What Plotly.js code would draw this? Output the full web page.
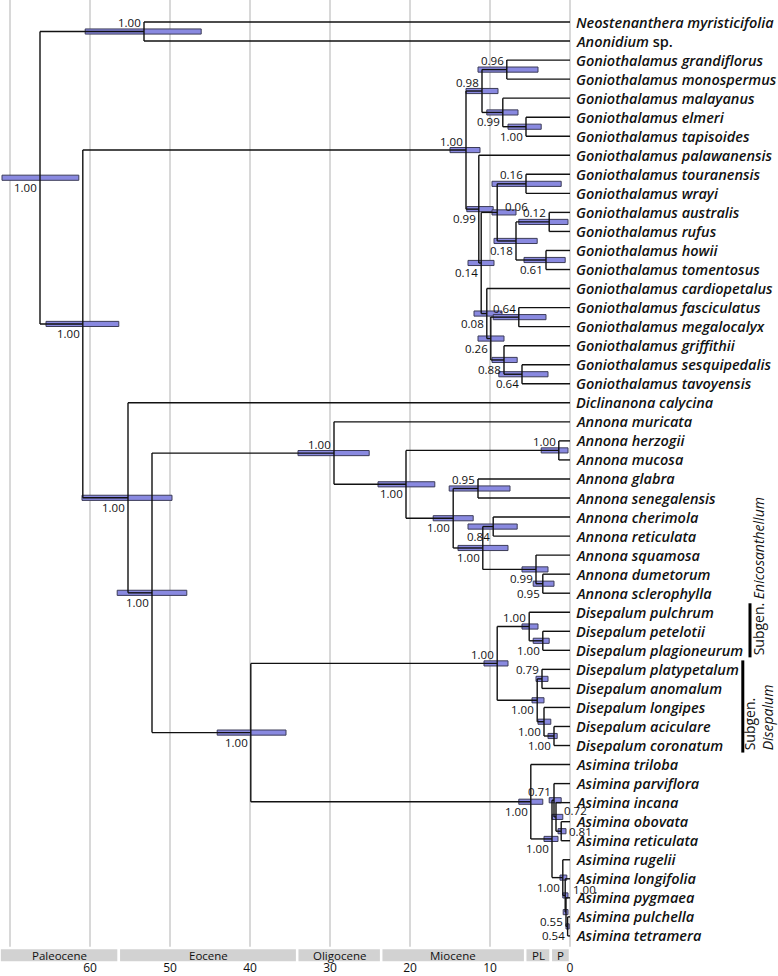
<!DOCTYPE html>
<html><head><meta charset="utf-8">
<script src="https://cdn.plot.ly/plotly-3.0.1.min.js"></script>
<style>html,body{margin:0;padding:0;background:#fff}#chart{width:778px;height:976px}</style>
</head><body><div id="chart"></div>
<script>
// ---- tips (top to bottom) ----
const taxa = [
 "Neostenanthera myristicifolia","Anonidium sp.",
 "Goniothalamus grandiflorus","Goniothalamus monospermus","Goniothalamus malayanus",
 "Goniothalamus elmeri","Goniothalamus tapisoides","Goniothalamus palawanensis",
 "Goniothalamus touranensis","Goniothalamus wrayi","Goniothalamus australis",
 "Goniothalamus rufus","Goniothalamus howii","Goniothalamus tomentosus",
 "Goniothalamus cardiopetalus","Goniothalamus fasciculatus","Goniothalamus megalocalyx",
 "Goniothalamus griffithii","Goniothalamus sesquipedalis","Goniothalamus tavoyensis",
 "Diclinanona calycina","Annona muricata","Annona herzogii","Annona mucosa",
 "Annona glabra","Annona senegalensis","Annona cherimola","Annona reticulata",
 "Annona squamosa","Annona dumetorum","Annona sclerophylla",
 "Disepalum pulchrum","Disepalum petelotii","Disepalum plagioneurum",
 "Disepalum platypetalum","Disepalum anomalum","Disepalum longipes",
 "Disepalum aciculare","Disepalum coronatum",
 "Asimina triloba","Asimina parviflora","Asimina incana","Asimina obovata",
 "Asimina reticulata","Asimina rugelii","Asimina longifolia","Asimina pygmaea",
 "Asimina pulchella","Asimina tetramera"
];

// ---- internal nodes ----
const nodeIds = ['root','A','B','C','D','E','annona','F','herz','G','glab','H','cher','squam','dume',
 'goni','G1','g096','g099','elm','G2','g014','g006','g016','g012','g018','g061','g008','g026','g064','g088','g064b',
 'dis','disI','pet','disJ','plat','disK','disL',
 'asi','asiM','a071','a072','a081','aLow','aA','aB','aC'];
// children: numbers = tip index, strings = node id
const nodeKids = [['A','B'],[0,1],['goni','C'],[20,'D'],['annona','E'],['dis','asi'],[21,'F'],['herz','G'],[22,23],['glab','H'],[24,25],['cher','squam'],[26,27],[28,'dume'],[29,30],
 ['G1','G2'],['g096','g099'],[2,3],[4,'elm'],[5,6],[7,'g014'],['g006','g008'],['g016','g018'],[8,9],[10,11],['g012','g061'],[12,13],[14,'g026'],['g064','g088'],[15,16],[17,'g064b'],[18,19],
 ['disI','disJ'],[31,'pet'],[32,33],['plat','disK'],[34,35],[36,'disL'],[37,38],
 [39,'asiM'],['a071','aLow'],[40,'a072'],[41,'a081'],[42,43],[44,'aA'],[45,'aB'],[46,'aC'],[47,48]];
// node ages (Ma)
const nodeAge = [66.25,53.25,60.9,55.25,52.25,39.9,29.5,20.5,1.4,14.6,11.5,10.9,9.6,4.25,3.4,
 13.0,11.0,7.9,8.4,5.5,11.4,11.1,9.1,5.5,2.6,6.75,3.0,10.4,9.9,6.4,8.25,6.0,
 9.1,5.1,3.4,4.1,3.5,3.25,2.0,
 4.9,2.25,2.0,1.75,1.1,0.9,0.6,0.5,0.3];
// 95% HPD (young, old)
const hpdYoung = [61.4,46.1,56.4,49.75,47.9,35.5,25.1,16.9,0.25,12.1,7.5,7.75,6.6,2.75,2.0,
 11.25,9.0,4.0,6.5,3.6,9.6,9.5,6.75,1.1,0.25,4.1,0.6,8.5,8.25,3.0,6.6,2.75,
 7.75,4.0,2.6,3.25,2.75,2.4,1.6,
 3.4,1.5,1.1,0.9,0.5,0.4,0.25,0.25,0.1];
const hpdOld = [71.0,60.6,65.5,61.0,56.6,44.1,34.0,24.0,3.6,17.1,15.1,14.0,12.75,6.0,4.6,
 15.0,13.0,11.5,10.4,7.75,12.9,12.75,9.75,9.75,6.4,9.5,5.75,12.0,11.5,9.6,9.75,8.9,
 10.75,6.0,4.6,4.75,4.25,4.0,2.75,
 6.4,3.25,2.6,2.25,1.5,1.25,0.9,0.85,0.5];
// posterior probabilities
const nodePP = [1.00,1.00,1.00,1.00,1.00,1.00,1.00,1.00,1.00,1.00,0.95,1.00,0.84,0.99,0.95,
 1.00,0.98,0.96,0.99,1.00,0.99,0.14,0.06,0.16,0.12,0.18,0.61,0.08,0.26,0.64,0.88,0.64,
 1.00,1.00,1.00,1.00,0.79,1.00,1.00,
 1.00,1.00,0.71,0.72,0.81,1.00,1.00,0.55,0.54];
// label placement: a = above-left, b = below-left, ar = above-right, r = right
const ppPos = ['b','a','b','b','b','b','a','b','a','b','a','b','b','b','b',
 'a','a','a','b','b','b','b','ar','a','a','b','b','b','b','a','b','b',
 'a','a','b','b','a','b','b',
 'b','b','a','ar','r','b','ar','b','b'];

// geological epochs
const epochs = ['Paleocene','Eocene','Oligocene','Miocene','PL','P'];
const epochOld = [71.3,56.4,34.1,23.6,5.6,2.4];
const epochYoung = [56.4,34.1,23.6,5.6,2.4,0];
const tickVals = [0,10,20,30,40,50,60,70];
const tickText = ['0','10','20','30','40','50','60',''];

// subgenus brackets
const subgenera = [
 {text:'Subgen. <i>Enicosanthellum</i>', first:31, last:33},
 {text:'Subgen.<br><i>Disepalum</i>', first:34, last:38}
];

// ---- compute layout of tree ----
const idx = {}; nodeIds.forEach((id,i)=>idx[id]=i);
const nodeY = new Array(nodeIds.length);
function yOf(c){ return typeof c==='number' ? c : computeY(c); }
function ageOf(c){ return typeof c==='number' ? 0 : nodeAge[idx[c]]; }
function computeY(id){
  const ys = nodeKids[idx[id]].map(yOf);
  const y = (Math.min(...ys)+Math.max(...ys))/2;
  nodeY[idx[id]] = y; return y;
}
computeY('root');

const lx=[], ly=[];
nodeIds.forEach((id,i)=>{
  const kids = nodeKids[i];
  const ys = kids.map(c=> typeof c==='number'? c : nodeY[idx[c]]);
  lx.push(nodeAge[i],nodeAge[i],null); ly.push(Math.min(...ys),Math.max(...ys),null);
  kids.forEach((c,k)=>{ lx.push(nodeAge[i],ageOf(c),null); ly.push(ys[k],ys[k],null); });
});

const traces = [
 {type:'bar', orientation:'h', y:nodeY, base:hpdYoung, x:hpdOld.map((o,i)=>o-hpdYoung[i]),
  width:0.27, marker:{color:'#8989e0', line:{color:'#3c3c58', width:1}}, hoverinfo:'skip'},
 {type:'scatter', mode:'lines', x:lx, y:ly, line:{color:'#111', width:1.4}, hoverinfo:'skip', connectgaps:false}
];

const ann = [];
const tipFont = {family:'Open Sans', size:14.5, color:'#111', weight:600};
taxa.forEach((n,i)=>{
  const t = n.endsWith(' sp.') ? '<i>'+n.slice(0,-4)+'</i> sp.' : '<i>'+n+'</i>';
  ann.push({x:0, y:i, xref:'x', yref:'y', text:t, showarrow:false, xanchor:'left', yanchor:'middle', xshift:4, font:tipFont});
});
const ppFont = {family:'Open Sans', size:11.5, color:'#111'};
nodeIds.forEach((id,i)=>{
  const p = ppPos[i];
  const a = {x:nodeAge[i], y:nodeY[i], xref:'x', yref:'y', text:nodePP[i].toFixed(2), showarrow:false, font:ppFont, yanchor:'middle'};
  if(p==='a'){a.xanchor='right'; a.xshift=-1; a.yshift=9;}
  else if(p==='b'){a.xanchor='right'; a.xshift=-1; a.yshift=-9.5;}
  else if(p==='ar'){a.xanchor='left'; a.xshift=6; a.yshift=6;}
  else {a.xanchor='left'; a.xshift=6; a.yshift=0;}
  ann.push(a);
});

const shapes = [];
// geologic bar
const barTop = 48.63, barBot = 49.4;
shapes.push({type:'rect', xref:'x', yref:'y', x0:71.3, x1:-26, y0:barTop, y1:barBot, fillcolor:'#fff', line:{width:0}, layer:'above'});
epochs.forEach((e,i)=>{
  shapes.push({type:'rect', xref:'x', yref:'y', x0:epochOld[i], x1:epochYoung[i], y0:barTop, y1:barBot,
    fillcolor:'#d2d2d2', line:{color:'#fff', width:2.5}, layer:'above'});
  ann.push({x:(epochOld[i]+epochYoung[i])/2, y:(barTop+barBot)/2, xref:'x', yref:'y', text:e, showarrow:false,
    font:{family:'Open Sans', size:11.5, color:'#111'}, xanchor:'center', yanchor:'middle'});
});
// subgenus brackets
const bx = [-22.5, -21.6], tx = [-23.5, -23.6];
subgenera.forEach((s,k)=>{
  shapes.push({type:'line', xref:'x', yref:'y', x0:bx[k], x1:bx[k], y0:s.first-0.47, y1:s.last+0.37, line:{color:'#000', width:3}});
  ann.push({x:tx[k], y:s.last+0.37, xref:'x', yref:'y', text:s.text, showarrow:false, textangle:-90,
    xanchor:'center', yanchor:'bottom', align:'left', font:{family:'Open Sans', size:14, color:'#111'}});
});

const layout = {
  width:778, height:976, margin:{l:0,r:0,t:0,b:14}, showlegend:false,
  paper_bgcolor:'#fff', plot_bgcolor:'#fff', bargap:0,
  xaxis:{range:[71.25,-26], tickvals:tickVals, ticktext:tickText, showgrid:true, gridcolor:'#d8d8d8', gridwidth:2,
    zeroline:false, showline:false, ticks:'', ticklabelstandoff:-3, automargin:false, tickfont:{family:'Open Sans', size:12, color:'#111'}, fixedrange:true},
  yaxis:{range:[49.37,-1.1555], showgrid:false, zeroline:false, showticklabels:false, ticks:'', showline:false, automargin:false, fixedrange:true},
  annotations:ann, shapes:shapes
};
Plotly.newPlot('chart', traces, layout, {displayModeBar:false, staticPlot:true});
</script></body></html>
